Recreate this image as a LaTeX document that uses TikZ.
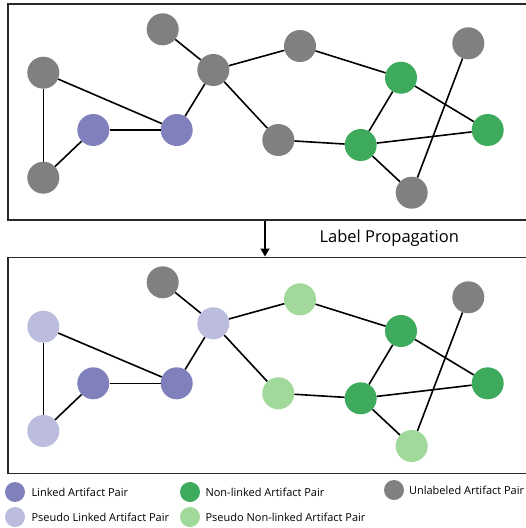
\documentclass[tikz,border=0pt]{standalone}
\usepackage{fontspec}
\setmainfont{Open Sans}
\usetikzlibrary{arrows.meta}

\definecolor{linked}{RGB}{128,128,189}
\definecolor{pseudolinked}{RGB}{187,188,222}
\definecolor{nonlinked}{RGB}{61,170,92}
\definecolor{pseudononlinked}{RGB}{161,217,155}
\definecolor{unlabeled}{RGB}{128,128,128}
\definecolor{frame}{RGB}{40,40,40}

\begin{document}
\begin{tikzpicture}[
    x=1pt, y=-1pt,
    pair/.style={circle, inner sep=0, minimum size=32pt},
    key/.style={circle, inner sep=0, minimum size=20pt},
    keytext/.style={anchor=west, font=\fontsize{11}{13}\selectfont},
    panel/.style={draw=frame, line width=1.6pt, minimum width=540pt, minimum height=216pt, anchor=north west},
    edge/.style={line width=1.6pt},
  ]
  \clip (0,0) rectangle (526,528);

  % panels
  \node[panel] (upper) at (7,3) {};
  \node[panel] (lower) at (7,256.5) {};
  \draw[line width=1.2pt, -{Triangle[length=8pt, width=9pt]}] (upper.south -| 265,0) -- (lower.north -| 265,0);
  \node[anchor=west, font=\fontsize{16.5}{19}\selectfont] (prop) at (316,238) {Label Propagation};

  % graph before propagation
  \node[pair, fill=unlabeled] (ua) at (162.7,29.3) {};
  \node[pair, fill=unlabeled] (ub) at (43.3,72.7) {};
  \node[pair, fill=linked] (uc) at (93.3,130) {};
  \node[pair, fill=linked] (ud) at (176.7,130) {};
  \node[pair, fill=unlabeled] (ue) at (43.3,177.7) {};
  \node[pair, fill=unlabeled] (uf) at (213.3,70) {};
  \node[pair, fill=unlabeled] (ug) at (300,46) {};
  \node[pair, fill=unlabeled] (uh) at (278.3,140) {};
  \node[pair, fill=nonlinked] (ui) at (401,77.7) {};
  \node[pair, fill=nonlinked] (uj) at (360.7,145) {};
  \node[pair, fill=nonlinked] (uk) at (487.7,130) {};
  \node[pair, fill=unlabeled] (ul) at (468.3,43.3) {};
  \node[pair, fill=unlabeled] (um) at (411.7,192.7) {};

  \draw[edge] (ua) -- (uf);
  \draw[edge] (ub) -- (ue);
  \draw[edge] (ub) -- (ud);
  \draw[edge] (uc) -- (ud);
  \draw[edge] (uc) -- (ue);
  \draw[edge] (ud) -- (uf);
  \draw[edge] (uf) -- (ug);
  \draw[edge] (uf) -- (uh);
  \draw[edge] (ug) -- (ui);
  \draw[edge] (uh) -- (uj);
  \draw[edge] (ui) -- (uj);
  \draw[edge] (ui) -- (uk);
  \draw[edge] (uj) -- (uk);
  \draw[edge] (uj) -- (um);
  \draw[edge] (ul) -- (um);

  % graph after propagation
  \node[pair, fill=unlabeled] (la) at (162.7,282.3) {};
  \node[pair, fill=pseudolinked] (lb) at (43.3,326.7) {};
  \node[pair, fill=linked] (lc) at (93.3,383.3) {};
  \node[pair, fill=linked] (ld) at (176.7,383.3) {};
  \node[pair, fill=pseudolinked] (le) at (43.3,431) {};
  \node[pair, fill=pseudolinked] (lf) at (213.3,323.3) {};
  \node[pair, fill=pseudononlinked] (lg) at (300,299.3) {};
  \node[pair, fill=pseudononlinked] (lh) at (278.3,393.3) {};
  \node[pair, fill=nonlinked] (li) at (401,331) {};
  \node[pair, fill=nonlinked] (lj) at (360.7,398.3) {};
  \node[pair, fill=nonlinked] (lk) at (487.7,383.3) {};
  \node[pair, fill=unlabeled] (ll) at (468.3,297.3) {};
  \node[pair, fill=pseudononlinked] (lm) at (411.7,446) {};

  \draw[edge] (la) -- (lf);
  \draw[edge] (lb) -- (le);
  \draw[edge] (lb) -- (ld);
  \draw[edge] (lc) -- (ld);
  \draw[edge] (lc) -- (le);
  \draw[edge] (ld) -- (lf);
  \draw[edge] (lf) -- (lg);
  \draw[edge] (lf) -- (lh);
  \draw[edge] (lg) -- (li);
  \draw[edge] (lh) -- (lj);
  \draw[edge] (li) -- (lj);
  \draw[edge] (li) -- (lk);
  \draw[edge] (lj) -- (lk);
  \draw[edge] (lj) -- (lm);
  \draw[edge] (ll) -- (lm);

  % legend
  \node[key, fill=linked] (klinked) at (15,492) {};
  \node[keytext] (tlinked) at (28,492) {Linked Artifact Pair};
  \node[key, fill=nonlinked] (knonlinked) at (190,492) {};
  \node[keytext] (tnonlinked) at (202,492) {Non-linked Artifact Pair};
  \node[key, fill=unlabeled] (kunlabeled) at (394,490) {};
  \node[keytext] (tunlabeled) at (405.5,490) {Unlabeled Artifact Pair};
  \node[key, fill=pseudolinked] (kpseudolinked) at (15,517) {};
  \node[keytext] (tpseudolinked) at (28,517) {Pseudo Linked Artifact Pair};
  \node[key, fill=pseudononlinked] (kpseudononlinked) at (190,517) {};
  \node[keytext] (tpseudononlinked) at (202,517) {Pseudo Non-linked Artifact Pair};
\end{tikzpicture}
\end{document}
